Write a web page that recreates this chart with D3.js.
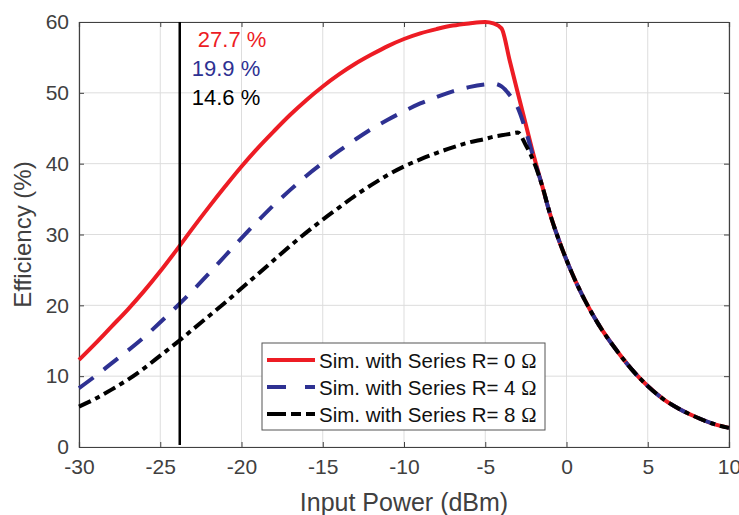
<!DOCTYPE html>
<html>
<head>
<meta charset="utf-8">
<script src="https://cdn.jsdelivr.net/npm/d3@7/dist/d3.min.js"></script>
<style>
  body { margin: 0; background: #fff; }
  svg text { font-family: "Liberation Sans", Arial, sans-serif; }
</style>
</head>
<body>
<div id="chart"></div>
<script>
// input power grid (dBm) shared by the three series
const power = [-30, -29, -28, -27, -26, -25, -24, -23, -22, -21, -20, -19, -18, -17, -16, -15,
  -14, -13, -12, -11, -10, -9, -8, -7, -6, -5, -4.5, -4, -3.5, -3, -2.5, -2, -1.5, -1, -0.5,
  0, 0.5, 1, 2, 3, 4, 5, 6, 7, 8, 9, 10]

const effR0 = [12.3, 14.6, 17.0, 19.4, 22.0, 24.8, 27.8, 30.9, 33.9, 36.8, 39.6, 42.2, 44.6, 46.9, 49.0, 50.9,
  52.6, 54.1, 55.4, 56.6, 57.6, 58.4, 59.0, 59.5, 59.8, 60.0, 59.8, 59.1, 54.6, 50.0, 45.5, 41.0, 36.9, 32.8, 29.4,
  26.4, 23.7, 21.3, 17.2, 13.9, 11.0, 8.6, 6.7, 5.3, 4.2, 3.3, 2.7]

const effR4 = [8.3, 10.0, 11.8, 13.6, 15.5, 17.6, 19.8, 22.1, 24.5, 27.0, 29.5, 31.9, 34.2, 36.3, 38.3, 40.1,
  41.8, 43.4, 44.9, 46.2, 47.4, 48.5, 49.4, 50.2, 50.8, 51.2, 51.3, 50.9, 49.7, 47.9, 44.6, 40.6, 36.9, 32.8, 29.4,
  26.4, 23.7, 21.3, 17.2, 13.9, 11.0, 8.6, 6.7, 5.3, 4.2, 3.3, 2.7]

const effR8 = [5.7, 6.8, 8.1, 9.5, 11.1, 12.9, 14.7, 16.6, 18.5, 20.4, 22.4, 24.4, 26.4, 28.4, 30.3, 32.1,
  33.8, 35.5, 37.0, 38.4, 39.6, 40.6, 41.5, 42.3, 43.0, 43.5, 43.8, 44.0, 44.2, 44.4, 42.6, 40.2, 36.9, 32.8, 29.4,
  26.4, 23.7, 21.3, 17.2, 13.9, 11.0, 8.6, 6.7, 5.3, 4.2, 3.3, 2.7]

const seriesNames = ['Sim. with Series R= 0 ', 'Sim. with Series R= 4 ', 'Sim. with Series R= 8 ']
const seriesColors = ['#ed1c24', '#2e3192', '#000000']
const seriesDash = [null, '18,13', '13,5,5,5']

const xTicks = [-30, -25, -20, -15, -10, -5, 0, 5, 10]
const yTicks = [0, 10, 20, 30, 40, 50, 60]

// marker line and values read at it
const markerPower = -23.8
const markerLabels = [' 27.7 %', '19.9 %', '14.6 %']

const width = 739, height = 515
const margin = {top: 22, right: 10, bottom: 68, left: 79}

const svg = d3.select('#chart').append('svg')
  .attr('width', width)
  .attr('height', height)

const x = d3.scaleLinear().domain([-30, 10]).range([margin.left, width - margin.right])
const y = d3.scaleLinear().domain([0, 60]).range([height - margin.bottom, margin.top])

const axisColor = '#404040'

// grid
svg.append('g').selectAll('line.vg')
  .data(xTicks).enter().append('line')
  .attr('x1', d => x(d)).attr('x2', d => x(d))
  .attr('y1', y(0)).attr('y2', y(60))
  .attr('stroke', '#dddddd').attr('stroke-width', 1)
svg.append('g').selectAll('line.hg')
  .data(yTicks).enter().append('line')
  .attr('y1', d => y(d)).attr('y2', d => y(d))
  .attr('x1', x(-30)).attr('x2', x(10))
  .attr('stroke', '#dddddd').attr('stroke-width', 1)

// axes, ticks pointing inward
const xAxis = svg.append('g')
  .attr('transform', `translate(0, ${y(0)})`)
  .call(d3.axisBottom(x).tickValues(xTicks).tickSize(-5).tickPadding(12).tickFormat(d => String(d)))
const xAxisTop = svg.append('g')
  .attr('transform', `translate(0, ${y(60)})`)
  .call(d3.axisTop(x).tickValues(xTicks).tickSize(-5).tickFormat(''))
const yAxis = svg.append('g')
  .attr('transform', `translate(${x(-30)}, 0)`)
  .call(d3.axisLeft(y).tickValues(yTicks).tickSize(-5).tickPadding(10).tickFormat(d => String(d)))
const yAxisRight = svg.append('g')
  .attr('transform', `translate(${x(10)}, 0)`)
  .call(d3.axisRight(y).tickValues(yTicks).tickSize(-5).tickFormat(''))

;[xAxis, xAxisTop, yAxis, yAxisRight].forEach(g => {
  g.selectAll('path').attr('stroke', axisColor).attr('stroke-width', 1.2)
  g.selectAll('line').attr('stroke', axisColor)
  g.selectAll('text').attr('fill', axisColor).style('font-size', '21px')
})
xAxis.selectAll('text').attr('dy', '0.71em')

// axis titles
svg.append('text')
  .attr('x', (x(-30) + x(10)) / 2)
  .attr('y', 511)
  .attr('text-anchor', 'middle')
  .attr('fill', axisColor)
  .style('font-size', '25px')
  .text('Input Power (dBm)')

svg.append('text')
  .attr('transform', `translate(31, ${(y(0) + y(60)) / 2}) rotate(-90)`)
  .attr('text-anchor', 'middle')
  .attr('fill', axisColor)
  .style('font-size', '24px')
  .text('Efficiency (%)')

// curves
const allSeries = [effR0, effR4, effR8]
const line = d3.line()
  .x(d => x(d[0]))
  .y(d => y(d[1]))
  .curve(d3.curveMonotoneX)

svg.append('g').selectAll('path.curve')
  .data(allSeries).enter().append('path')
  .attr('class', 'curve')
  .attr('d', vals => line(power.map((p, i) => [p, vals[i]])))
  .attr('fill', 'none')
  .attr('stroke', (d, i) => seriesColors[i])
  .attr('stroke-width', 4)
  .attr('stroke-dasharray', (d, i) => seriesDash[i])

// vertical marker
svg.append('line')
  .attr('x1', x(markerPower)).attr('x2', x(markerPower))
  .attr('y1', y(0) - 2).attr('y2', y(60))
  .attr('stroke', '#000').attr('stroke-width', 2.5)

svg.selectAll('text.mark')
  .data(markerLabels).enter().append('text')
  .attr('class', 'mark')
  .attr('x', x(markerPower) + 12)
  .attr('y', (d, i) => 47 + i * 29)
  .attr('fill', (d, i) => seriesColors[i])
  .style('font-size', '22px')
  .style('white-space', 'pre')
  .text(d => d)

// legend
const legend = svg.append('g').attr('transform', 'translate(262, 343)')
legend.append('rect')
  .attr('width', 283).attr('height', 87)
  .attr('fill', '#fff')
  .attr('stroke', '#555').attr('stroke-width', 1)

const rows = legend.selectAll('g.row')
  .data(seriesNames).enter().append('g')
  .attr('transform', (d, i) => `translate(0, ${17 + i * 27})`)

rows.append('line')
  .attr('x1', 5).attr('x2', 53)
  .attr('stroke', (d, i) => seriesColors[i])
  .attr('stroke-width', 4)
  .attr('stroke-dasharray', (d, i) => i === 1 ? '19,19' : (i === 2 ? '19,5,10,5' : null))

const labels = rows.append('text')
  .attr('x', 57)
  .attr('y', 7.5)
  .attr('fill', '#111')
  .style('font-size', '20.5px')
  .style('white-space', 'pre')
labels.append('tspan').text(d => d)
labels.append('tspan')
  .style('font-family', '"Liberation Serif", "Times New Roman", serif')
  .text('\u03A9')
</script>
</body>
</html>
